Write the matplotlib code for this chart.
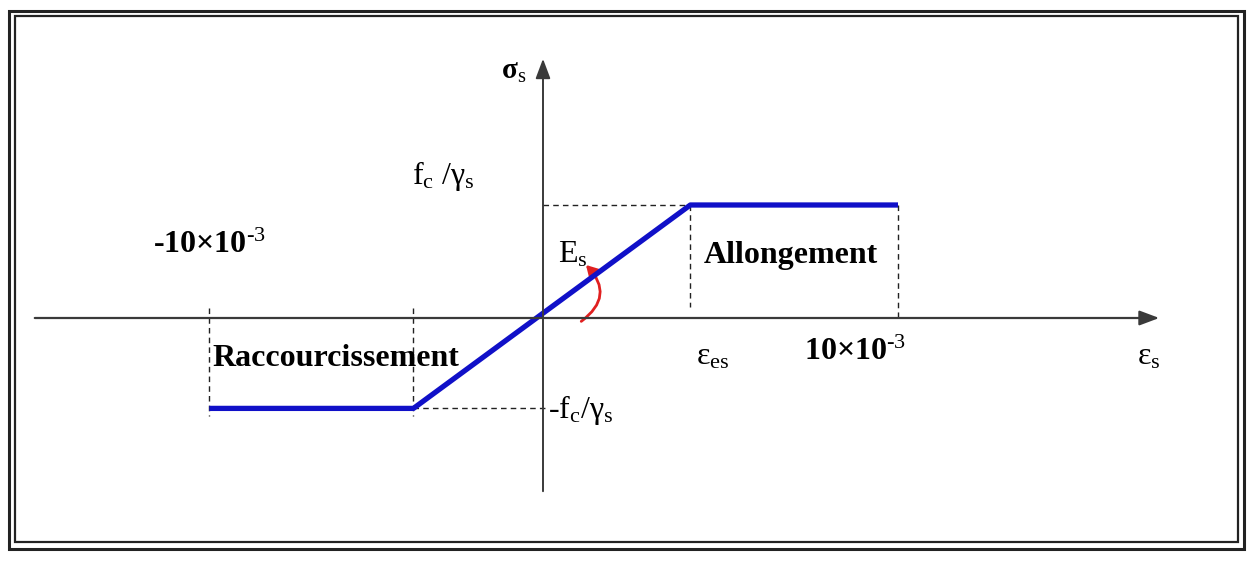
import numpy as np
import matplotlib
matplotlib.use("Agg")
import matplotlib.pyplot as plt
from matplotlib.patches import Rectangle, FancyArrowPatch

plt.rcParams["font.family"] = ["Liberation Serif", "DejaVu Serif"]
plt.rcParams["mathtext.fontset"] = "custom"
plt.rcParams["mathtext.rm"] = "Liberation Serif"
plt.rcParams["mathtext.it"] = "Liberation Serif:italic"
plt.rcParams["mathtext.bf"] = "Liberation Serif:bold"

# steel stress-strain diagram (strain in per mille, stress as fraction of fe/gamma_s)
strain = [-9.4, -3.65, 4.15, 10.0]
stress = [-0.8, -0.8, 1.0, 1.0]

W, H = 1252, 566
# pixel position of the origin and scale of the drawing
ox, oy = 543, 318
sx, sy = 35.5, 113.0

fig = plt.figure(figsize=(W / 100, H / 100), dpi=100)
ax = fig.add_axes([0, 0, 1, 1])
ax.set_xlim(-ox / sx, (W - ox) / sx)
ax.set_ylim((oy - H) / sy, oy / sy)
ax.axis("off")


def fx(px):
    return (px - ox) / sx


def fy(py):
    return (oy - py) / sy


def pos(px, py):
    return px / W, 1 - py / H


# double frame
fig.patches.append(Rectangle(pos(9, 549), (1244 - 9) / W, (549 - 11) / H, transform=fig.transFigure,
                             fill=False, lw=2.2, ec="#222222"))
fig.patches.append(Rectangle(pos(14.5, 542), (1238 - 14.5) / W, (542 - 16) / H, transform=fig.transFigure,
                             fill=False, lw=1.6, ec="#222222"))

# axes with arrows
axc = "#3a3a3a"
ax.annotate("", xy=(fx(1162), 0), xytext=(fx(32), 0),
            arrowprops=dict(arrowstyle="-|>,head_length=1.2,head_width=0.45", color=axc, lw=1.6))
ax.annotate("", xy=(0, fy(56)), xytext=(0, fy(494)),
            arrowprops=dict(arrowstyle="-|>,head_length=1.2,head_width=0.45", color=axc, lw=1.4))

# dashed guides
dk = dict(color="#222222", lw=1.0, ls=(0, (4, 3)))
ax.plot([0, strain[2]], [stress[2], stress[2]], **dk)
ax.plot([strain[2], strain[2]], [stress[2], 0.1], **dk)
ax.plot([strain[3], strain[3]], [stress[3], 0], **dk)
ax.plot([strain[0], strain[0]], [fy(308), fy(416)], **dk)
ax.plot([strain[1], strain[1]], [fy(308), fy(416)], **dk)
ax.plot([strain[1], fx(549)], [stress[1], stress[1]], **dk)

# constitutive law
ax.plot(strain, stress, color="#1010c8", lw=3.8, solid_capstyle="butt")

# Es arrow
arr = FancyArrowPatch((fx(579), fy(323)), (fx(584), fy(263)), connectionstyle="arc3,rad=0.6",
                      arrowstyle="-|>,head_length=7,head_width=4", color="#e02020", lw=2.0)
ax.add_patch(arr)

# labels
fs = 23
fig.text(*pos(501, 72), r"$\mathbf{\sigma}_{\mathrm{s}}$", fontsize=21, va="center", ha="left")
fig.text(*pos(412, 176), r"$\mathrm{f}_{\mathrm{c}}\ /\mathrm{\gamma}_{\mathrm{s}}$", fontsize=fs,
         va="center", ha="left")
fig.text(*pos(153, 245), r"-$\mathbf{10{\times}10}^{\text{-3}}$", fontsize=fs, fontweight="bold",
         va="center", ha="left")
fig.text(*pos(558, 255), r"$\mathrm{E}_{\mathrm{s}}$", fontsize=fs, va="center", ha="left")
fig.text(*pos(704, 256), "Allongement", fontsize=fs, fontweight="bold", va="center", ha="left")
fig.text(*pos(212, 358), "Raccourcissement", fontsize=fs, fontweight="bold", va="center", ha="left")
fig.text(*pos(696, 357), r"$\mathrm{\varepsilon}_{\mathrm{es}}$", fontsize=fs, va="center", ha="left")
fig.text(*pos(804, 352), r"$\mathbf{10{\times}10}^{\text{-3}}$", fontsize=fs, va="center", ha="left")
fig.text(*pos(1137, 357), r"$\mathrm{\varepsilon}_{\mathrm{s}}$", fontsize=fs, va="center", ha="left")
fig.text(*pos(548, 410), r"-$\mathrm{f}_{\mathrm{c}}/\mathrm{\gamma}_{\mathrm{s}}$", fontsize=fs,
         va="center", ha="left")

plt.savefig("out.png", dpi=100)
